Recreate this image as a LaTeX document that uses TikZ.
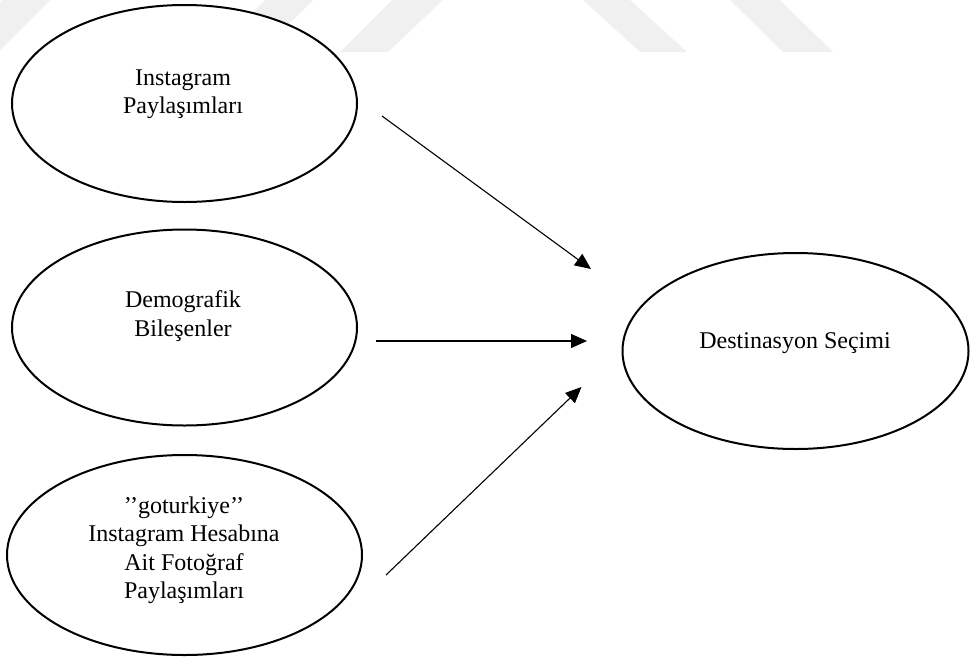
\documentclass[tikz,border=0pt]{standalone}
\usepackage{fontspec}
\setmainfont{Liberation Serif}
\usetikzlibrary{shapes.geometric,arrows.meta}
\begin{document}
\begin{tikzpicture}[x=1pt,y=-1pt,
  ell/.style={ellipse,draw,line width=2pt,fill=white,inner sep=0pt},
  lbl/.style={align=center,font=\fontsize{24}{28.4}\selectfont,inner sep=0pt},
  arr/.style={line width=1.1pt,-{Triangle[length=16pt,width=14pt]}},
  wm/.style={fill=black!6,draw=none}]
\useasboundingbox (0,0) rectangle (974,659);
% faint watermark bands
\fill[wm] (-50,52) -- (-2,52) -- (50,0) -- (2,0) -- cycle;
\fill[wm] (213,52) -- (261,52) -- (313,0) -- (265,0) -- cycle;
\fill[wm] (340,52) -- (388,52) -- (443,0) -- (392,0) -- cycle;
\fill[wm] (583,0) -- (630,0) -- (687,52) -- (640,52) -- cycle;
\fill[wm] (730,0) -- (780,0) -- (833,52) -- (783,52) -- cycle;
% ellipses
\node[ell,minimum width=345pt,minimum height=197pt] (e1) at (184.5,103.5) {};
\node[ell,minimum width=345pt,minimum height=196pt] (e2) at (184.5,327.5) {};
\node[ell,minimum width=355pt,minimum height=200pt] (e3) at (184.5,555) {};
\node[ell,minimum width=346pt,minimum height=196pt] (e4) at (795.5,351) {};
% labels
\node[lbl] (t1) at (183,94.2) {Instagram\\Paylaşımları};
\node[lbl] (t2) at (183,315.9) {Demografik\\Bileşenler};
\node[lbl] (t3) at (184,550.4) {’’goturkiye’’\\Instagram Hesabına\\Ait Fotoğraf\\Paylaşımları};
\node[lbl] (t4) at (795,343.2) {Destinasyon Seçimi};
% arrow end points
\coordinate (a1s) at (382,116);
\coordinate (a1e) at (591,269);
\coordinate (a2s) at (376,341);
\coordinate (a2e) at (587,341);
\coordinate (a3s) at (386,575);
\coordinate (a3e) at (581.5,387);
\draw[arr] (a1s) -- (a1e);
\draw[arr] (a2s) -- (a2e);
\draw[arr] (a3s) -- (a3e);
\end{tikzpicture}
\end{document}
